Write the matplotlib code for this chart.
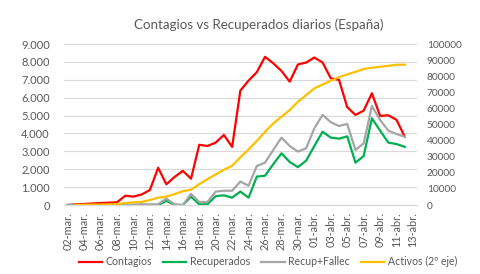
import numpy as np
import matplotlib
matplotlib.use("Agg")
import matplotlib.pyplot as plt
from matplotlib.ticker import FuncFormatter, MultipleLocator

plt.rcParams['font.family'] = ['Lato', 'DejaVu Sans']

dates = ["02-mar.", "03-mar.", "04-mar.", "05-mar.", "06-mar.", "07-mar.", "08-mar.",
         "09-mar.", "10-mar.", "11-mar.", "12-mar.", "13-mar.", "14-mar.", "15-mar.",
         "16-mar.", "17-mar.", "18-mar.", "19-mar.", "20-mar.", "21-mar.", "22-mar.",
         "23-mar.", "24-mar.", "25-mar.", "26-mar.", "27-mar.", "28-mar.", "29-mar.",
         "30-mar.", "31-mar.", "01-abr.", "02-abr.", "03-abr.", "04-abr.", "05-abr.",
         "06-abr.", "07-abr.", "08-abr.", "09-abr.", "10-abr.", "11-abr.", "12-abr.",
         "13-abr."]

contagios = [0, 40, 60, 80, 110, 130, 150, 520, 470, 590, 840, 2085, 1160, 1570,
             1910, 1470, 3370, 3300, 3490, 3920, 3250, 6400, 6960, 7430, 8290, 7930,
             7500, 6900, 7860, 7970, 8250, 7970, 7090, 7000, 5470, 5040, 5280, 6250,
             4980, 5020, 4760, 3820]

recuperados = [0, 0, 0, 0, 0, 0, 0, 0, 0, 20, 0, 0, 230, 10, 0, 470, 40, 40, 500,
               540, 410, 750, 410, 1590, 1640, 2280, 2890, 2410, 2120, 2480, 3300,
               4100, 3770, 3710, 3840, 2370, 2740, 4850, 4160, 3490, 3410, 3250]

recup_fallec = [0, 0, 0, 0, 0, 0, 0, 10, 20, 30, 30, 40, 360, 30, 0, 620, 170, 170,
                750, 800, 800, 1310, 1080, 2180, 2370, 3080, 3770, 3300, 2990, 3170,
                4290, 5040, 4630, 4420, 4530, 3080, 3450, 5540, 4760, 4160, 3970, 3820]

activos = [np.nan, 100, 150, 200, 280, 350, 600, 1200, 1700, 1900, 3100, 4600, 5200,
           6800, 8600, 9500, 13000, 16100, 19000, 21900, 24400, 29600, 34600, 39800,
           45500, 50700, 54900, 59000, 64200, 68300, 72500, 74900, 77200, 79500,
           81200, 82800, 84500, 85300, 85900, 86500, 87200, 87200]

RED = "#FF0000"
GREEN = "#00B050"
GRAY = "#A5A5A5"
YELLOW = "#FFC000"
TXT = "#595959"
GRID = "#D9D9D9"

fig = plt.figure(figsize=(4.8, 2.74), dpi=100)
ax = fig.add_axes([0.1325, 0.2518, 0.7365, 0.5872])
ax2 = ax.twinx()

x = np.arange(len(contagios))
lw = 1.6
l1, = ax.plot(x, contagios, color=RED, lw=lw, label="Contagios", zorder=3)
l2, = ax.plot(x, recuperados, color=GREEN, lw=lw, label="Recuperados", zorder=4)
l3, = ax.plot(x, recup_fallec, color=GRAY, lw=lw, label="Recup+Fallec", zorder=5)
l4, = ax2.plot(x, activos, color=YELLOW, lw=lw, label="Activos (2º eje)", zorder=6)

ax.set_xlim(-0.5, len(dates) - 0.5)
ax.set_ylim(0, 9000)
ax2.set_ylim(0, 100000)
ax.yaxis.set_major_locator(MultipleLocator(1000))
ax2.yaxis.set_major_locator(MultipleLocator(10000))
ax.yaxis.set_major_formatter(FuncFormatter(lambda v, p: f"{int(v):,}".replace(",", ".")))
ax2.yaxis.set_major_formatter(FuncFormatter(lambda v, p: f"{int(v)}"))

ax.set_xticks(np.arange(0, len(dates), 2))
ax.set_xticklabels(dates[::2], rotation=90, fontsize=7.8, color=TXT)
ax.tick_params(axis='x', length=0, pad=5)
ax.tick_params(axis='y', length=0, labelsize=8, labelcolor=TXT, pad=10)
ax2.tick_params(axis='y', length=0, labelsize=7.3, labelcolor=TXT, pad=7)

ax.grid(axis='y', color=GRID, lw=0.8)
ax.set_axisbelow(True)
for a in (ax, ax2):
    for s in ("top", "left", "right"):
        a.spines[s].set_visible(False)
    a.spines["bottom"].set_color(GRID)
    a.spines["bottom"].set_linewidth(0.8)

fig.text(0.54, 0.91, "Contagios vs Recuperados diarios (España)", ha="center",
         va="center", fontsize=9.6, color=TXT)

leg = fig.legend(handles=[l1, l2, l3, l4], loc="center", bbox_to_anchor=(0.558, 0.044),
                 ncol=4, frameon=False, fontsize=7.6, handlelength=2.2,
                 handletextpad=0.3, columnspacing=1.1)
for t in leg.get_texts():
    t.set_color(TXT)

fig.savefig("out.png", dpi=100)
